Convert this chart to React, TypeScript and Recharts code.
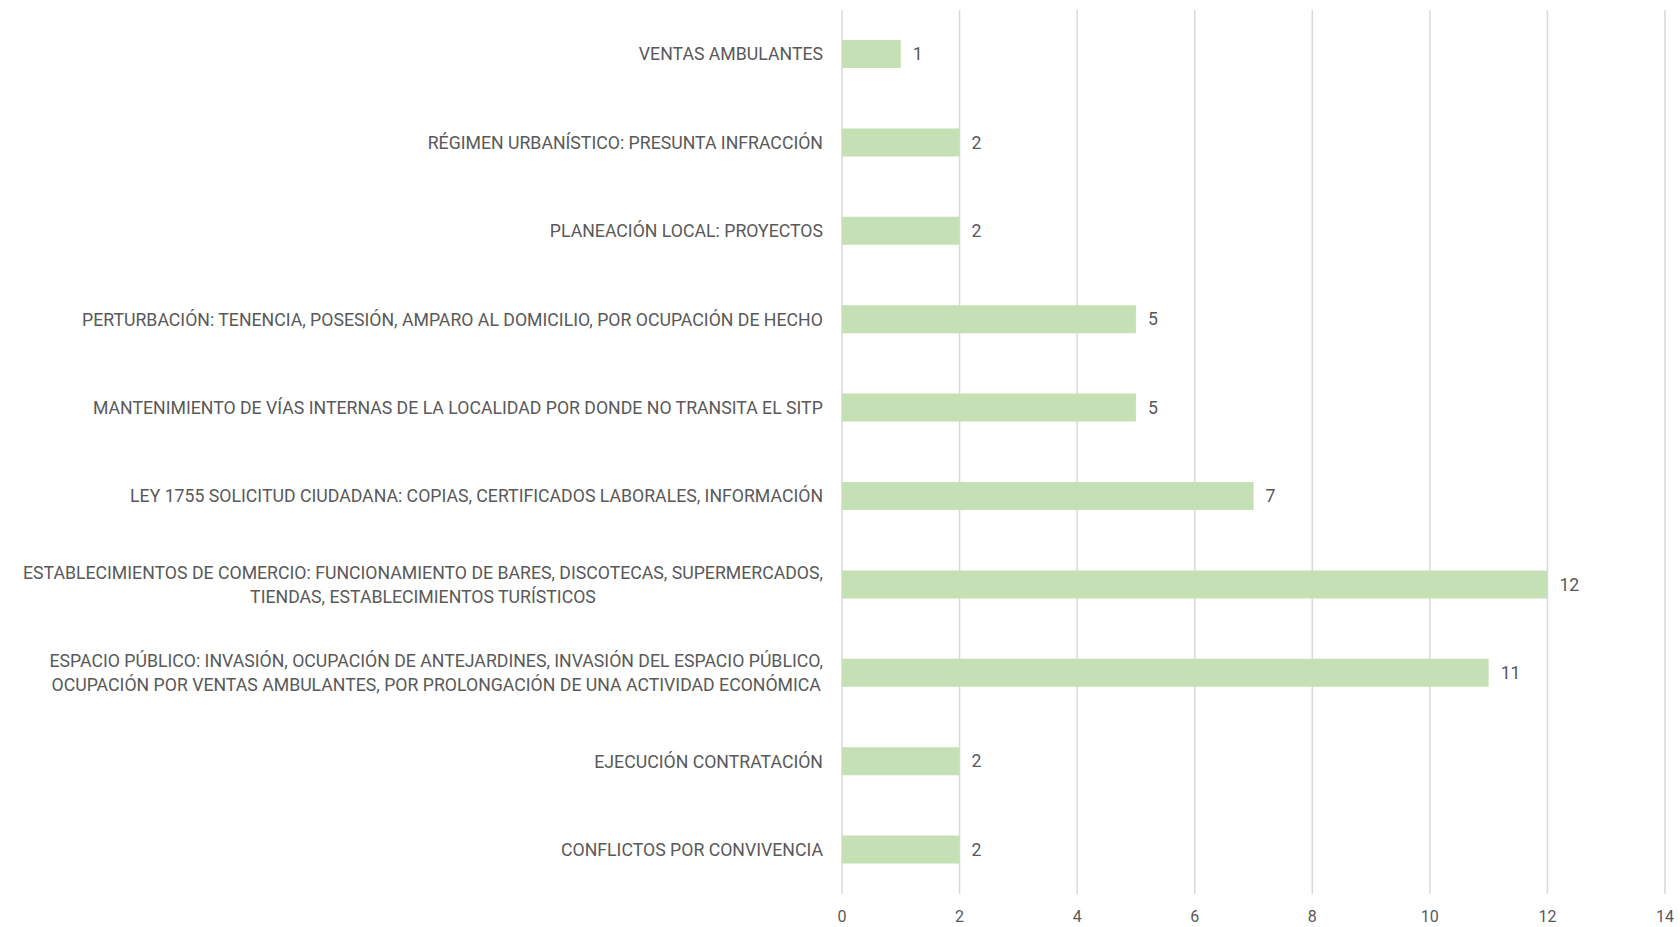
import React from 'react';
import { BarChart, Bar, XAxis, YAxis, CartesianGrid, LabelList } from 'recharts';

const categories: string[] = [
  'VENTAS AMBULANTES',
  'RÉGIMEN URBANÍSTICO: PRESUNTA INFRACCIÓN',
  'PLANEACIÓN LOCAL: PROYECTOS',
  'PERTURBACIÓN: TENENCIA, POSESIÓN, AMPARO AL DOMICILIO, POR OCUPACIÓN DE HECHO',
  'MANTENIMIENTO DE VÍAS INTERNAS DE LA LOCALIDAD POR DONDE NO TRANSITA EL SITP',
  'LEY 1755 SOLICITUD CIUDADANA: COPIAS, CERTIFICADOS LABORALES, INFORMACIÓN',
  'ESTABLECIMIENTOS DE COMERCIO: FUNCIONAMIENTO DE BARES, DISCOTECAS, SUPERMERCADOS,\nTIENDAS, ESTABLECIMIENTOS TURÍSTICOS',
  'ESPACIO PÚBLICO: INVASIÓN, OCUPACIÓN DE ANTEJARDINES, INVASIÓN DEL ESPACIO PÚBLICO,\nOCUPACIÓN POR VENTAS AMBULANTES, POR PROLONGACIÓN DE UNA ACTIVIDAD ECONÓMICA',
  'EJECUCIÓN CONTRATACIÓN',
  'CONFLICTOS POR CONVIVENCIA',
];
const values: number[] = [1, 2, 2, 5, 5, 7, 12, 11, 2, 2];
const xTicks: number[] = [0, 2, 4, 6, 8, 10, 12, 14];

const data = categories.map((name, i) => ({ name, value: values[i] }));

const FONT = 'Roboto, sans-serif';
const FS = 17.7;
const TICK_FS = 16;
const TEXT = '#595959';

let ctx: CanvasRenderingContext2D | null = null;
function measure(t: string): number {
  if (!ctx) ctx = document.createElement('canvas').getContext('2d');
  if (!ctx) return t.length * FS * 0.6;
  ctx.font = `${FS}px Roboto`;
  return ctx.measureText(t).width;
}

const YTick = (props: any) => {
  const { x, y, payload } = props;
  const lines = String(payload.value).split('\n');
  const lh = 23.5;
  const maxW = Math.max(...lines.map(measure));
  const cx = x - maxW / 2;
  return (
    <text fill={TEXT} fontSize={FS} fontFamily={FONT} textAnchor="middle">
      {lines.map((l, i) => (
        <tspan key={i} x={cx} y={y + (i - (lines.length - 1) / 2) * lh} dy="0.35em">
          {l}
        </tspan>
      ))}
    </text>
  );
};

export default function App() {
  return (
    <div style={{ position: 'absolute', left: 0, top: 0, background: '#fff' }}>
      <BarChart
        width={1680}
        height={927}
        data={data}
        layout="vertical"
        margin={{ top: 10, right: 15, bottom: 0, left: 0 }}
        barCategoryGap={0}
      >
        <CartesianGrid horizontal={false} stroke="#D9D9D9" strokeWidth={1.5} />
        <XAxis
          type="number"
          domain={[0, 14]}
          ticks={xTicks}
          axisLine={false}
          tickLine={false}
          height={33}
          tickMargin={11}
          interval={0}
          tick={{ fill: TEXT, fontSize: TICK_FS, fontFamily: FONT }}
        />
        <YAxis
          type="category"
          dataKey="name"
          width={842}
          axisLine={false}
          tickLine={false}
          tickMargin={13}
          interval={0}
          tick={<YTick />}
        />
        <Bar dataKey="value" fill="#C5E0B4" barSize={28} isAnimationActive={false}>
          <LabelList
            dataKey="value"
            position="right"
            offset={12}
            fill={TEXT}
            fontSize={FS}
            fontFamily={FONT}
          />
        </Bar>
      </BarChart>
    </div>
  );
}
